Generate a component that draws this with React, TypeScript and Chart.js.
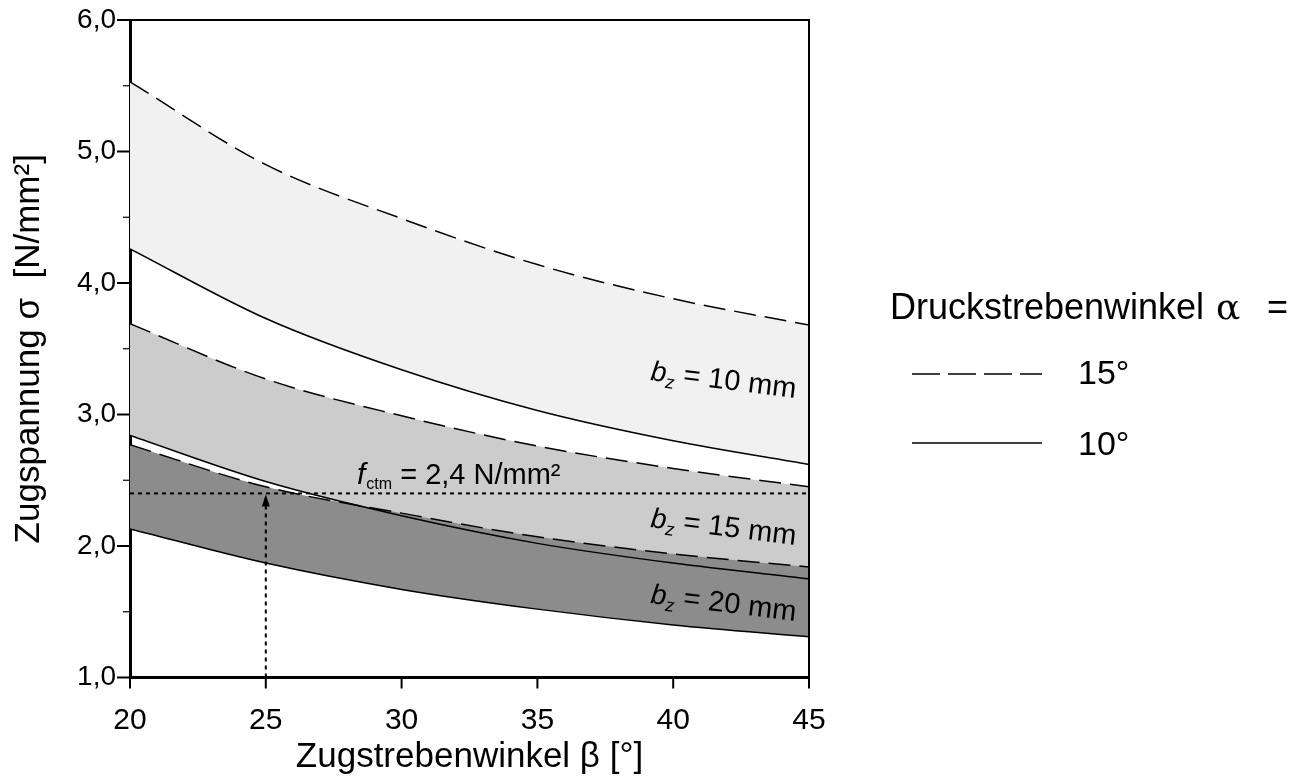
import React, { useEffect, useRef } from 'react';
import { Chart, registerables } from 'chart.js';

Chart.register(...registerables);

// ---- data ----
const betaDeg = [20, 25, 30, 35, 40, 45];
const bz10Alpha15 = [5.53, 4.90, 4.49, 4.14, 3.88, 3.68];
const bz10Alpha10 = [4.26, 3.73, 3.34, 3.03, 2.80, 2.62];
const bz15Alpha15 = [3.69, 3.27, 2.99, 2.76, 2.59, 2.45];
const bz15Alpha10 = [2.84, 2.49, 2.23, 2.02, 1.87, 1.75];
const bz20Alpha15 = [2.77, 2.45, 2.25, 2.07, 1.94, 1.84];
const bz20Alpha10 = [2.13, 1.87, 1.67, 1.52, 1.40, 1.31];
const fctmValue = 2.4;
const fctmBeta = 25;
const yMajorTicks = [1, 2, 3, 4, 5, 6];
const yMinorTicks = [1.5, 2.5, 3.5, 4.5, 5.5];
const xMajorTicks = [20, 25, 30, 35, 40, 45];
const bandNames = ['10', '15', '20'];
const legendTitleParts = ['Druckstrebenwinkel', 'α', '='];
const legendItems = ['15°', '10°'];
const xTitle = 'Zugstrebenwinkel β [°]';
const yTitle = 'Zugspannung σ  [N/mm²]';

const FONT = "'Liberation Sans', Arial, sans-serif";

const pts = (ys: number[]) => betaDeg.map((x, i) => ({ x, y: ys[i] }));

const DASH = [22, 9];

const overlay = {
  id: 'overlay',
  afterDraw(chart: any) {
    const { ctx, chartArea: a, scales } = chart;
    const xs = scales.x;
    const ys = scales.y;
    ctx.save();
    ctx.strokeStyle = '#000';
    ctx.fillStyle = '#000';
    // top and right frame
    ctx.lineWidth = 2;
    ctx.beginPath();
    ctx.moveTo(a.left, a.top);
    ctx.lineTo(a.right, a.top);
    ctx.lineTo(a.right, a.bottom);
    ctx.stroke();
    // y ticks
    ctx.lineWidth = 2;
    yMajorTicks.forEach((v) => {
      const py = ys.getPixelForValue(v);
      ctx.beginPath();
      ctx.moveTo(a.left - 13, py);
      ctx.lineTo(a.left, py);
      ctx.stroke();
    });
    ctx.lineWidth = 1.2;
    yMinorTicks.forEach((v) => {
      const py = ys.getPixelForValue(v);
      ctx.beginPath();
      ctx.moveTo(a.left - 7, py);
      ctx.lineTo(a.left, py);
      ctx.stroke();
    });
    // x ticks
    ctx.lineWidth = 2;
    xMajorTicks.forEach((v) => {
      const px = xs.getPixelForValue(v);
      ctx.beginPath();
      ctx.moveTo(px, a.bottom);
      ctx.lineTo(px, a.bottom + 11);
      ctx.stroke();
    });
    // arrow head
    const ax = xs.getPixelForValue(fctmBeta);
    const ay = ys.getPixelForValue(fctmValue);
    ctx.beginPath();
    ctx.moveTo(ax, ay + 1);
    ctx.lineTo(ax - 4, ay + 13);
    ctx.lineTo(ax + 4, ay + 13);
    ctx.closePath();
    ctx.fill();

    // band labels
    const bandBase = [380, 527, 603];
    bandNames.forEach((n, i) => {
      ctx.save();
      ctx.translate(650, bandBase[i]);
      ctx.rotate((7 * Math.PI) / 180);
      ctx.textBaseline = 'alphabetic';
      ctx.textAlign = 'left';
      ctx.font = `italic 28px ${FONT}`;
      ctx.fillText('b', 0, 0);
      let w = ctx.measureText('b').width;
      ctx.font = `italic 18px ${FONT}`;
      ctx.fillText('z', w, 6);
      w += ctx.measureText('z').width;
      ctx.font = `29px ${FONT}`;
      ctx.fillText(` = ${n} mm`, w, 0);
      ctx.restore();
    });

    // fctm label
    ctx.textBaseline = 'alphabetic';
    ctx.textAlign = 'left';
    ctx.font = `italic 30px ${FONT}`;
    let fx = 357;
    const fy = 484;
    ctx.fillText('f', fx, fy);
    fx += ctx.measureText('f').width + 1;
    ctx.font = `16px ${FONT}`;
    ctx.fillText('ctm', fx, fy + 5);
    fx += ctx.measureText('ctm').width;
    ctx.font = `29px ${FONT}`;
    ctx.fillText(' = 2,4 N/mm²', fx, fy);

    // legend
    ctx.font = `36px ${FONT}`;
    ctx.fillText(legendTitleParts[0], 890, 319);
    ctx.font = `36px 'DejaVu Serif', serif`;
    ctx.fillText(legendTitleParts[1], 1216, 319);
    ctx.font = `36px ${FONT}`;
    ctx.fillText(legendTitleParts[2], 1267, 319);
    ctx.font = `34px ${FONT}`;
    ctx.fillText(legendItems[0], 1078, 384);
    ctx.fillText(legendItems[1], 1078, 455);
    ctx.lineWidth = 1.7;
    ctx.setLineDash([28, 8]);
    ctx.beginPath();
    ctx.moveTo(912, 374);
    ctx.lineTo(1042, 374);
    ctx.stroke();
    ctx.setLineDash([]);
    ctx.beginPath();
    ctx.moveTo(912, 443);
    ctx.lineTo(1042, 443);
    ctx.stroke();
    ctx.restore();
  },
};

export default function App() {
  const ref = useRef<HTMLCanvasElement | null>(null);
  useEffect(() => {
    if (!ref.current) return;
    const curve = (ys: number[], dashed: boolean, fill: any, bg: string) => ({
      data: pts(ys),
      borderColor: '#000',
      borderWidth: 1.5,
      borderDash: dashed ? DASH : [],
      pointRadius: 0,
      cubicInterpolationMode: 'monotone',
      fill,
      backgroundColor: bg,
    });
    const chart = new Chart(ref.current, {
      type: 'line',
      data: {
        datasets: [
          curve(bz20Alpha15, true, '+1', '#8c8c8c'),
          curve(bz20Alpha10, false, false, 'transparent'),
          curve(bz15Alpha15, true, '+1', '#cccccc'),
          curve(bz15Alpha10, false, false, 'transparent'),
          curve(bz10Alpha15, true, '+1', '#f1f1f1'),
          curve(bz10Alpha10, false, false, 'transparent'),
          {
            data: [
              { x: betaDeg[0], y: fctmValue },
              { x: betaDeg[betaDeg.length - 1], y: fctmValue },
            ],
            borderColor: '#000',
            borderWidth: 2,
            borderDash: [4, 4],
            pointRadius: 0,
            fill: false,
          },
          {
            data: [
              { x: fctmBeta, y: 1 },
              { x: fctmBeta, y: fctmValue },
            ],
            borderColor: '#000',
            borderWidth: 2,
            borderDash: [4, 4],
            pointRadius: 0,
            fill: false,
          },
        ] as any,
      },
      options: {
        animation: false,
        responsive: true,
        maintainAspectRatio: false,
        layout: { padding: { left: 0, right: 490, top: 20, bottom: 0 } },
        plugins: {
          legend: { display: false },
          tooltip: { enabled: false },
          filler: { drawTime: 'beforeDatasetsDraw' },
        } as any,
        scales: {
          x: {
            type: 'linear',
            min: 20,
            max: 45,
            afterFit: (s: any) => {
              s.height = 106.5;
              s.paddingLeft = 0;
              s.paddingRight = 0;
            },
            grid: { display: false, drawTicks: false },
            border: { display: true, width: 3, color: '#000' },
            ticks: {
              stepSize: 5,
              padding: 25,
              color: '#000',
              font: { family: FONT, size: 30 },
              maxRotation: 0,
            },
            title: {
              display: true,
              text: xTitle,
              color: '#000',
              font: { family: FONT, size: 35 },
              padding: { top: 0, bottom: 6 },
            },
          },
          y: {
            type: 'linear',
            min: 1,
            max: 6,
            afterFit: (s: any) => {
              s.width = 130;
              s.paddingTop = 0;
              s.paddingBottom = 0;
            },
            grid: { display: false, drawTicks: false },
            border: { display: true, width: 3, color: '#000' },
            ticks: {
              stepSize: 1,
              padding: 14,
              color: '#000',
              font: { family: FONT, size: 28 },
              callback: (v: any) => Number(v).toFixed(1).replace('.', ','),
            },
            title: {
              display: true,
              text: yTitle,
              color: '#000',
              font: { family: FONT, size: 35 },
              padding: { top: 8, bottom: 0 },
            },
          },
        },
      } as any,
      plugins: [overlay],
    });
    return () => chart.destroy();
  }, []);
  return (
    <div style={{ position: 'fixed', left: 0, top: 0, width: 1299, height: 784, background: '#fff' }}>
      <canvas ref={ref} />
    </div>
  );
}
